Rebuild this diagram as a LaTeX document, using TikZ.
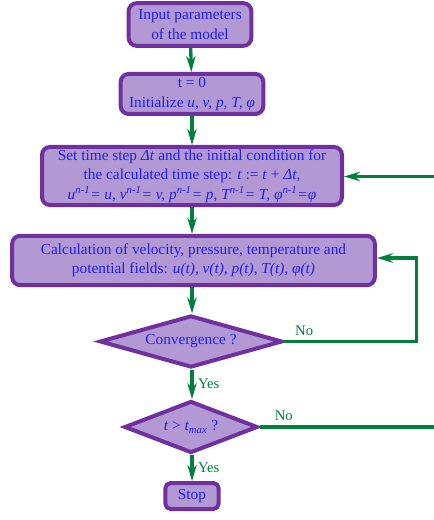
\documentclass[tikz,border=0pt]{standalone}
\usepackage{fontspec}
\setmainfont{Liberation Serif}
\usetikzlibrary{shapes.geometric,arrows.meta}
\definecolor{boxfill}{HTML}{B399D4}
\definecolor{boxline}{HTML}{7030A0}
\definecolor{flowgreen}{HTML}{00803C}
\definecolor{textblue}{HTML}{2020E0}
\begin{document}
\begin{tikzpicture}[x=0.75pt,y=-0.75pt,
    stepbox/.style={draw=boxline, fill=boxfill, line width=3pt, rounded corners=6pt,
      text=textblue, align=center, inner sep=0pt, font=\fontsize{11.5}{14.5}\selectfont},
    decision/.style={diamond, draw=boxline, fill=boxfill, line width=3pt,
      text=textblue, inner sep=0pt, font=\fontsize{11.5}{14.5}\selectfont},
    flow/.style={draw=flowgreen, line width=2.5pt, -{Stealth[length=12pt,width=7pt,inset=4pt]}},
    answer/.style={text=flowgreen, font=\fontsize{11}{13}\selectfont}]
  \useasboundingbox (0,0) rectangle (433,520);
  % boxes of the flowchart
  \node[stepbox, minimum width=92pt, minimum height=32pt] (input) at (190,24.5)
    {Input parameters\\of the model};
  \node[stepbox, minimum width=107pt, minimum height=30pt] (init) at (192,94)
    {t = 0\\Initialize \textit{u, v, p, T, φ}};
  \node[stepbox, minimum width=225pt, minimum height=43.5pt] (timestep) at (192,176)
    {Set time step \textit{Δt} and the initial condition for\\
     the calculated time step: \textit{t} := \textit{t} + \textit{Δt},\\
     \textit{u\textsuperscript{n-1}= u, v\textsuperscript{n-1}= v, p\textsuperscript{n-1}= p, T\textsuperscript{n-1}= T, φ\textsuperscript{n-1}=φ}};
  \node[stepbox, minimum width=272pt, minimum height=37pt] (fields) at (193.5,260.5)
    {Calculation of velocity, pressure, temperature and\\
     potential fields: \textit{u(t), v(t), p(t), T(t), φ(t)}};
  \node[decision, aspect=3.4, minimum width=137pt, minimum height=39pt] (conv) at (191,341.5)
    {Convergence ?};
  \node[decision, aspect=2.5, minimum width=100pt, minimum height=39pt] (tmax) at (191,427)
    {\textit{t} > \textit{t\textsubscript{max}} ?};
  \node[stepbox, minimum width=40pt, minimum height=19.5pt, rounded corners=4pt] (stop) at (192,496)
    {Stop};
  % connectors
  \draw[flow] (input) -- (init);
  \draw[flow] (init) -- (timestep);
  \draw[flow] (init.south |- timestep.south) -- (init.south |- fields.north);
  \draw[flow] (init.south |- fields.south) -- (init.south |- conv.north);
  \draw[flow] (init.south |- conv.south) -- node[answer, right] {Yes} (init.south |- tmax.north);
  \draw[flow] (init.south |- tmax.south) -- node[answer, right] {Yes} (stop);
  \coordinate (loopA) at (416.5,258);
  \coordinate (loopB) at (445,176.5);
  \draw[flow] (conv.east) -- node[answer, above, pos=0.15] {No}
    (conv.east -| loopA) -- (loopA) -- (fields.east |- loopA);
  \draw[flow] (tmax.east) -- node[answer, above, pos=0.13] {No}
    (tmax.east -| loopB) -- (loopB) -- (timestep.east |- loopB);
\end{tikzpicture}
\end{document}
